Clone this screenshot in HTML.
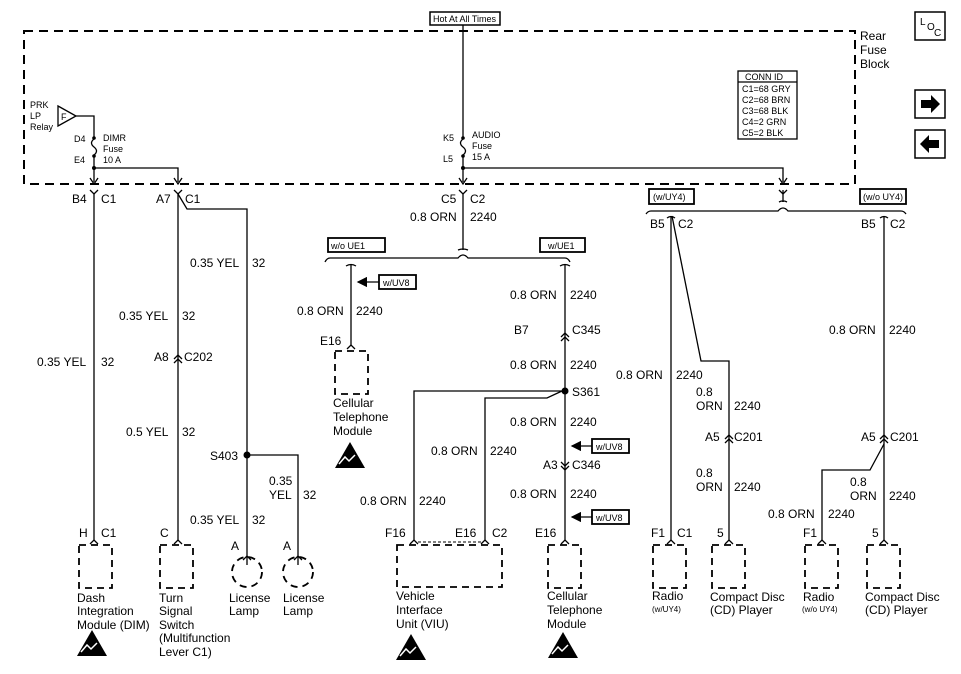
<!DOCTYPE html>
<html><head><meta charset="utf-8"><style>
html,body{margin:0;padding:0;background:#fff}
svg{display:block}
text{font-family:"Liberation Sans",Arial,sans-serif;fill:#000}
.w{font-size:12px}
.s{font-size:9px}
.m{font-size:12px}
</style></head><body>
<svg width="961" height="674" viewBox="0 0 961 674" xmlns="http://www.w3.org/2000/svg">
<defs>
<g id="esd"><polygon points="15,0 0,26 30,26" fill="#000"/><path d="M4,22 l6,-7 l4,4 l6,-6" stroke="#fff" stroke-width="1.5" fill="none"/></g>
<marker id="ah" markerWidth="8" markerHeight="8" refX="7" refY="4" orient="auto"><path d="M0,0 L8,4 L0,8 z" fill="#000"/></marker>
</defs>
<g fill="none" stroke="#000" stroke-width="1.3">
<!-- fuse block -->
<rect x="24" y="31" width="831" height="153" stroke-dasharray="9,6" stroke-width="2"/>
<rect x="430" y="12" width="70" height="13" stroke-width="1.5"/>
<line x1="463" y1="25" x2="463" y2="137"/>
<!-- LOC and arrows -->
<rect x="915" y="12" width="30" height="28" stroke-width="1.5"/>
<rect x="915" y="90" width="30" height="28" stroke-width="1.5"/>
<rect x="915" y="130" width="30" height="28" stroke-width="1.5"/>
<!-- CONN ID -->
<rect x="738" y="71" width="59" height="68"/>
<line x1="738" y1="82" x2="797" y2="82"/>
<!-- relay -->
<polygon points="58,106 76,116 58,126"/>
<polyline points="76,116 94,116 94,137"/>
<path d="M94,139 q-5,4 0,8 q5,4 0,8"/>
<line x1="94" y1="157" x2="94" y2="182"/>
<polyline points="94,168 178,168 178,182"/>
<path d="M90,178 L94,184 L98,178"/><path d="M174,178 L178,184 L182,178"/>
<!-- audio fuse -->
<path d="M463,139 q-5,4 0,8 q5,4 0,8"/>
<line x1="463" y1="157" x2="463" y2="182"/>
<path d="M459,178 L463,184 L467,178"/>
<polyline points="463,168 783,168 783,182"/>
<path d="M779,178 L783,184 L787,178"/>
<!-- left wires -->
<path d="M90,190 L94,194 L98,190"/>
<line x1="94" y1="194" x2="94" y2="540"/>
<path d="M174,190 L178,194 L182,190"/>
<line x1="178" y1="194" x2="178" y2="540"/>
<polyline points="178,194 187,209 247,209 247,565"/>
<path d="M174,359 L178,355 L182,359"/><path d="M174,363 L178,359 L182,363"/>
<polyline points="247,455 298,455 298,565"/>
<!-- module ends -->
<path d="M90,544 L94,540 L98,544"/>
<path d="M174,544 L178,540 L182,544"/>
<path d="M243,560 L247,556 L251,560"/>
<path d="M294,560 L298,556 L302,560"/>
<rect x="79" y="545" width="33" height="43" stroke-dasharray="7,5" stroke-width="1.8"/>
<rect x="160" y="545" width="33" height="43" stroke-dasharray="7,5" stroke-width="1.8"/>
<circle cx="247" cy="572" r="15" stroke-dasharray="7,5" stroke-width="1.8"/>
<circle cx="298" cy="572" r="15" stroke-dasharray="7,5" stroke-width="1.8"/>
<!-- middle -->
<path d="M459,190 L463,194 L467,190"/>
<line x1="463" y1="194" x2="463" y2="250"/>
<path d="M458,250 q5,-2 10,0"/>
<path d="M325,262 q2,-4 5,-4 L458,258 q5,-6 10,0 L565,258 q3,0 5,4"/>
<rect x="328" y="238" width="57" height="14" stroke-width="1.8"/>
<rect x="540" y="238" width="45" height="14" stroke-width="1.8"/>
<path d="M346,266 q5,-3 10,0"/><line x1="351" y1="265" x2="351" y2="345"/>
<path d="M347,349 L351,345 L355,349"/>
<rect x="335" y="351" width="33" height="43" stroke-dasharray="7,5" stroke-width="1.8"/>
<line x1="379" y1="282" x2="358" y2="282" marker-end="url(#ah)"/>
<rect x="379" y="275" width="37" height="14" stroke-width="1.8"/>
<path d="M560,266 q5,-3 10,0"/><line x1="565" y1="265" x2="565" y2="540"/>
<path d="M561,337 L565,333 L569,337"/><path d="M561,341 L565,337 L569,341"/>
<polyline points="565,391 414,391 414,540"/>
<polyline points="562,391 547,398 485,398 485,540"/>
<path d="M561,462 L565,466 L569,462"/><path d="M561,466 L565,470 L569,466"/>
<line x1="592" y1="446" x2="572" y2="446" marker-end="url(#ah)"/>
<rect x="592" y="439" width="37" height="14" stroke-width="1.8"/>
<line x1="592" y1="517" x2="572" y2="517" marker-end="url(#ah)"/>
<rect x="592" y="510" width="37" height="14" stroke-width="1.8"/>
<path d="M410,544 L414,540 L418,544"/><path d="M481,544 L485,540 L489,544"/>
<line x1="418" y1="542" x2="481" y2="542" stroke-dasharray="3,2" stroke-width="1"/>
<path d="M561,544 L565,540 L569,544"/>
<rect x="397" y="545" width="105" height="42" stroke-dasharray="7,5" stroke-width="1.8"/>
<rect x="548" y="545" width="33" height="43" stroke-dasharray="7,5" stroke-width="1.8"/>
<!-- right -->
<path d="M779,190 L783,194 L787,190"/><line x1="783" y1="190" x2="783" y2="202"/><path d="M779,202 q4,-2 4,0 q0,-2 4,0"/>
<path d="M646,214 q2,-3 5,-3 L778,211 q5,-6 10,0 L901,211 q3,0 5,3"/>
<rect x="649" y="189" width="45" height="15" stroke-width="1.8"/>
<rect x="860" y="189" width="46" height="15" stroke-width="1.8"/>
<path d="M667,218 q4,-3 8,0"/><line x1="671" y1="216" x2="671" y2="540"/>
<polyline points="672,216 701,361 729,361 729,540"/>
<path d="M725,439 L729,435 L733,439"/><path d="M725,443 L729,439 L733,443"/>
<path d="M880,218 q4,-3 8,0"/><line x1="884" y1="216" x2="884" y2="540"/>
<polyline points="884,444 870,470 822,470 822,540"/>
<path d="M880,439 L884,435 L888,439"/><path d="M880,443 L884,439 L888,443"/>
<path d="M667,544 L671,540 L675,544"/><path d="M725,544 L729,540 L733,544"/>
<path d="M818,544 L822,540 L826,544"/><path d="M880,544 L884,540 L888,544"/>
<rect x="653" y="545" width="33" height="43" stroke-dasharray="7,5" stroke-width="1.8"/>
<rect x="712" y="545" width="33" height="43" stroke-dasharray="7,5" stroke-width="1.8"/>
<rect x="805" y="545" width="33" height="43" stroke-dasharray="7,5" stroke-width="1.8"/>
<rect x="867" y="545" width="33" height="43" stroke-dasharray="7,5" stroke-width="1.8"/>
</g>
<circle cx="247" cy="455" r="3.5"/><circle cx="565" cy="391" r="3.5"/>
<circle cx="94" cy="168" r="2"/><circle cx="463" cy="168" r="2"/>
<circle cx="94" cy="138" r="1.8"/><circle cx="94" cy="156" r="1.8"/>
<circle cx="463" cy="138" r="1.8"/><circle cx="463" cy="156" r="1.8"/>
<!-- arrows glyph -->
<path d="M921,100 h10 v-5 l9,9 l-9,9 v-5 h-10 z"/>
<path d="M939,140 h-10 v-5 l-9,9 l9,9 v-5 h10 z"/>
<use href="#esd" x="77" y="630"/><use href="#esd" x="335" y="442"/>
<use href="#esd" x="396" y="634"/><use href="#esd" x="548" y="632"/>
<!-- text -->
<text x="433" y="22" class="s">Hot At All Times</text>
<text x="920" y="25" font-size="10">L</text><text x="927" y="30" font-size="10">O</text><text x="934" y="36" font-size="10">C</text>
<text x="860" y="40" class="m">Rear</text><text x="860" y="54" class="m">Fuse</text><text x="860" y="68" class="m">Block</text>
<text x="745" y="80" class="s">CONN ID</text>
<text x="742" y="92" class="s">C1=68 GRY</text><text x="742" y="103" class="s">C2=68 BRN</text><text x="742" y="114" class="s">C3=68 BLK</text><text x="742" y="125" class="s">C4=2 GRN</text><text x="742" y="136" class="s">C5=2 BLK</text>
<text x="30" y="108" class="s">PRK</text><text x="30" y="119" class="s">LP</text><text x="30" y="130" class="s">Relay</text>
<text x="61" y="120" class="s">F</text>
<text x="74" y="142" class="s">D4</text><text x="74" y="163" class="s">E4</text>
<text x="103" y="141" class="s">DIMR</text><text x="103" y="152" class="s">Fuse</text><text x="103" y="163" class="s">10 A</text>
<text x="443" y="141" class="s">K5</text><text x="443" y="162" class="s">L5</text>
<text x="472" y="138" class="s">AUDIO</text><text x="472" y="149" class="s">Fuse</text><text x="472" y="160" class="s">15 A</text>
<text x="331" y="249" class="s">w/o UE1</text><text x="548" y="249" class="s">w/UE1</text>
<text x="383" y="286" class="s">w/UV8</text><text x="596" y="450" class="s">w/UV8</text><text x="596" y="521" class="s">w/UV8</text>
<text x="653" y="200" class="s">(w/UY4)</text><text x="863" y="200" class="s">(w/o UY4)</text>
<g class="w">
<text x="72" y="203">B4</text><text x="101" y="203">C1</text>
<text x="156" y="203">A7</text><text x="185" y="203">C1</text>
<text x="441" y="203">C5</text><text x="470" y="203">C2</text>
<text x="410" y="221">0.8 ORN</text><text x="470" y="221">2240</text>
<text x="650" y="228">B5</text><text x="678" y="228">C2</text>
<text x="861" y="228">B5</text><text x="890" y="228">C2</text>
<text x="190" y="267">0.35 YEL</text><text x="252" y="267">32</text>
<text x="119" y="320">0.35 YEL</text><text x="182" y="320">32</text>
<text x="37" y="366">0.35 YEL</text><text x="101" y="366">32</text>
<text x="154" y="361">A8</text><text x="184" y="361">C202</text>
<text x="126" y="436">0.5 YEL</text><text x="182" y="436">32</text>
<text x="210" y="460">S403</text>
<text x="269" y="485">0.35</text><text x="269" y="499">YEL</text><text x="303" y="499">32</text>
<text x="190" y="524">0.35 YEL</text><text x="252" y="524">32</text>
<text x="297" y="315">0.8 ORN</text><text x="356" y="315">2240</text>
<text x="320" y="345">E16</text>
<text x="510" y="299">0.8 ORN</text><text x="570" y="299">2240</text>
<text x="514" y="334">B7</text><text x="572" y="334">C345</text>
<text x="510" y="369">0.8 ORN</text><text x="570" y="369">2240</text>
<text x="572" y="396">S361</text>
<text x="431" y="455">0.8 ORN</text><text x="490" y="455">2240</text>
<text x="510" y="426">0.8 ORN</text><text x="570" y="426">2240</text>
<text x="543" y="469">A3</text><text x="572" y="469">C346</text>
<text x="510" y="498">0.8 ORN</text><text x="570" y="498">2240</text>
<text x="360" y="505">0.8 ORN</text><text x="419" y="505">2240</text>
<text x="616" y="379">0.8 ORN</text><text x="676" y="379">2240</text>
<text x="696" y="396">0.8</text><text x="696" y="410">ORN</text><text x="734" y="410">2240</text>
<text x="705" y="441">A5</text><text x="734" y="441">C201</text>
<text x="696" y="477">0.8</text><text x="696" y="491">ORN</text><text x="734" y="491">2240</text>
<text x="829" y="334">0.8 ORN</text><text x="889" y="334">2240</text>
<text x="861" y="441">A5</text><text x="890" y="441">C201</text>
<text x="850" y="486">0.8</text><text x="850" y="500">ORN</text><text x="889" y="500">2240</text>
<text x="768" y="518">0.8 ORN</text><text x="828" y="518">2240</text>
<text x="79" y="537">H</text><text x="101" y="537">C1</text>
<text x="160" y="537">C</text>
<text x="231" y="550">A</text><text x="283" y="550">A</text>
<text x="385" y="537">F16</text><text x="455" y="537">E16</text><text x="492" y="537">C2</text>
<text x="535" y="537">E16</text>
<text x="651" y="537">F1</text><text x="677" y="537">C1</text>
<text x="717" y="537">5</text>
<text x="803" y="537">F1</text><text x="872" y="537">5</text>
<text x="77" y="602">Dash</text><text x="77" y="615">Integration</text><text x="77" y="629">Module (DIM)</text>
<text x="159" y="602">Turn</text><text x="159" y="615">Signal</text><text x="159" y="629">Switch</text><text x="159" y="642">(Multifunction</text><text x="159" y="656">Lever C1)</text>
<text x="229" y="602">License</text><text x="229" y="615">Lamp</text>
<text x="283" y="602">License</text><text x="283" y="615">Lamp</text>
<text x="333" y="407">Cellular</text><text x="333" y="421">Telephone</text><text x="333" y="435">Module</text>
<text x="396" y="600">Vehicle</text><text x="396" y="614">Interface</text><text x="396" y="628">Unit (VIU)</text>
<text x="547" y="600">Cellular</text><text x="547" y="614">Telephone</text><text x="547" y="628">Module</text>
<text x="652" y="600">Radio</text>
<text x="710" y="601">Compact Disc</text><text x="710" y="614">(CD) Player</text>
<text x="803" y="601">Radio</text>
<text x="865" y="601">Compact Disc</text><text x="865" y="614">(CD) Player</text>
</g>
<text x="652" y="612" font-size="8">(w/UY4)</text>
<text x="802" y="612" font-size="8">(w/o UY4)</text>
</svg>
</body></html>
